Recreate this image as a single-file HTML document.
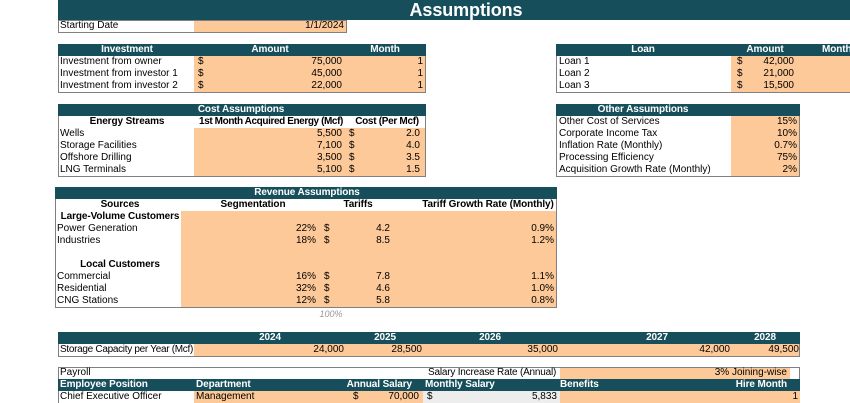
<!DOCTYPE html>
<html><head><meta charset="utf-8">
<style>
html,body{margin:0;padding:0;background:#fff;}
#root{position:relative;width:850px;height:403px;overflow:hidden;font-family:"Liberation Sans",Arial,sans-serif;font-size:10px;color:#000;}
.r{position:absolute;box-sizing:border-box;}
.t{position:absolute;white-space:nowrap;line-height:12px;height:12px;}
.hd{color:#fff;font-weight:bold;}
.b{font-weight:bold;}
.hd,.b{letter-spacing:-0.1px;}
</style></head>
<body>
<div id="root"></div>
<script>
const TEAL='#164f5b', OR='#fdc998', GR='#ededed';
const root=document.getElementById('root');
function rect(name,x,y,w,h,bg,border){
  const el=document.createElement('div');
  el.className='r';
  
  
  el.style.cssText=`left:${x}px;top:${y}px;width:${w}px;height:${h}px;`+(bg?`background:${bg};`:'')+(border?`border:1px solid ${border};`:'');
  root.appendChild(el);return el;
}
function txt(name,x,y,s,align,cls,inter){
  const el=document.createElement('div');
  el.className='t '+(cls||'');
  
  
  el.textContent=s;
  if(align==='r'){el.style.right=(850-x)+'px';}
  else if(align==='c'){el.style.left=(x-200)+'px';el.style.width='400px';el.style.textAlign='center';}
  else el.style.left=x+'px';
  el.style.top=y+'px';
  root.appendChild(el);return el;
}
rect('title-bar',58,0,792,20,TEAL);
const ti=txt('title',466,1,'Assumptions','c','hd');ti.style.fontSize='18px';ti.style.lineHeight='18px';ti.style.height='18px';
rect('starting-date-box',58,20,289,13,null,'#808080');
rect('starting-date-input',194,21,152,11,OR);
txt('starting-date-label',60,20,'Starting Date','l');
txt('starting-date-value',344,20,'1/1/2024','r','',true);

rect('investment-table',58,44,368,49,null,'#808080');
rect('investment-header',58,44,368,12,TEAL);
rect('investment-inputs',194,56,231,36,OR);
txt('investment-col',127,44,'Investment','c','hd');
txt('amount-col',270,44,'Amount','c','hd');
txt('month-col',385,44,'Month','c','hd');
const inv=[['Investment from owner','75,000'],['Investment from investor 1','45,000'],['Investment from investor 2','22,000']];
inv.forEach((d,i)=>{const y=56+i*12;
  txt('investment-label',60,y,d[0],'l');
  txt('dollar-sign',198,y,'$','l');
  txt('investment-amount',342,y,d[1],'r','',true);
  txt('investment-month',423,y,'1','r','',true);
});

rect('loan-table',556,44,300,49,null,'#808080');
rect('loan-header',556,44,294,12,TEAL);
rect('loan-inputs',731,56,119,36,OR);
txt('loan-col',643,44,'Loan','c','hd');
txt('loan-amount-col',765,44,'Amount','c','hd');
txt('loan-month-col',822,44,'Month','l','hd');
const loans=[['Loan 1','42,000'],['Loan 2','21,000'],['Loan 3','15,500']];
loans.forEach((d,i)=>{const y=56+i*12;
  txt('loan-label',559,y,d[0],'l');
  txt('dollar-sign',737,y,'$','l');
  txt('loan-amount',794,y,d[1],'r','',true);
});

rect('cost-table',58,104,368,73,null,'#808080');
rect('cost-header',58,104,368,12,TEAL);
rect('cost-inputs',194,128,231,48,OR);
txt('cost-title',241,104,'Cost Assumptions','c','hd');
txt('energy-streams-col',127,116,'Energy Streams','c','b');
txt('acquired-energy-col',271,116,'1st Month Acquired Energy (Mcf)','c','b').style.letterSpacing='-0.4px';
txt('cost-per-mcf-col',387,116,'Cost (Per Mcf)','c','b').style.letterSpacing='-0.3px';
const costs=[['Wells','5,500','2.0'],['Storage Facilities','7,100','4.0'],['Offshore Drilling','3,500','3.5'],['LNG Terminals','5,100','1.5']];
costs.forEach((d,i)=>{const y=128+i*12;
  txt('energy-stream-label',60,y,d[0],'l');
  txt('acquired-energy',342,y,d[1],'r','',true);
  txt('dollar-sign',349,y,'$','l');
  txt('cost-per-mcf',420,y,d[2],'r','',true);
});

rect('other-table',556,104,244,73,null,'#808080');
rect('other-header',556,104,244,12,TEAL);
rect('other-inputs',731,116,68,60,OR);
txt('other-title',643,104,'Other Assumptions','c','hd');
const oth=[['Other Cost of Services','15%'],['Corporate Income Tax','10%'],['Inflation Rate (Monthly)','0.7%'],['Processing Efficiency','75%'],['Acquisition Growth Rate (Monthly)','2%']];
oth.forEach((d,i)=>{const y=116+i*12;
  txt('other-label',559,y,d[0],'l');
  txt('other-value',797,y,d[1],'r','',true);
});

rect('revenue-table',55,187,502,121,null,'#808080');
rect('revenue-header',55,187,502,12,TEAL);
rect('revenue-inputs',181,211,375,96,OR);
txt('revenue-title',307,187,'Revenue Assumptions','c','hd');
txt('sources-col',120,199,'Sources','c','b');
txt('segmentation-col',253,199,'Segmentation','c','b');
txt('tariffs-col',358,199,'Tariffs','c','b');
txt('tariff-growth-col',488,199,'Tariff Growth Rate (Monthly)','c','b');
txt('large-volume-heading',120,211,'Large-Volume Customers','c','b');
txt('local-heading',120,259,'Local Customers','c','b');
const rev=[[223,'Power Generation','22%','4.2','0.9%'],[235,'Industries','18%','8.5','1.2%'],[271,'Commercial','16%','7.8','1.1%'],[283,'Residential','32%','4.6','1.0%'],[295,'CNG Stations','12%','5.8','0.8%']];
rev.forEach(d=>{const y=d[0];
  txt('revenue-source',57,y,d[1],'l');
  txt('segmentation',316,y,d[2],'r','',true);
  txt('dollar-sign',324,y,'$','l');
  txt('tariff',390,y,d[3],'r','',true);
  txt('tariff-growth',554,y,d[4],'r','',true);
});
const tot=txt('segmentation-total',331,308,'100%','c');tot.style.color='#999';tot.style.fontStyle='italic';tot.style.fontSize='9px';

rect('storage-table',58,332,742,25,null,'#808080');
rect('storage-header',58,332,742,12,TEAL);
rect('storage-inputs',194,344,605,12,OR);
const years=['2024','2025','2026','2027','2028'];
const yearX=[270,385,490,657,765];
const capX=[344,422,558,730,799];
const cap=['24,000','28,500','35,000','42,000','49,500'];
years.forEach((y,i)=>{txt('storage-year',yearX[i],332,y,'c','hd');txt('storage-capacity',capX[i],344,cap[i],'r','',true);});
txt('storage-label',60,344,'Storage Capacity per Year (Mcf)','l').style.letterSpacing='-0.3px';

rect('payroll-table',58,367,742,40,null,'#808080');
rect('payroll-rate-input',560,368,230,11,OR);
txt('payroll-label',60,367,'Payroll','l');
txt('salary-increase-label',428,367,'Salary Increase Rate (Annual)','l').style.letterSpacing='-0.2px';
txt('salary-increase-value',787,367,'3% Joining-wise','r','',true);
rect('payroll-header',58,379,742,12,TEAL);
txt('employee-position-col',60,379,'Employee Position','l','hd');
txt('department-col',196,379,'Department','l','hd');
txt('annual-salary-col',412,379,'Annual Salary','r','hd');
txt('monthly-salary-col',425,379,'Monthly Salary','l','hd');
txt('benefits-col',560,379,'Benefits','l','hd');
txt('hire-month-col',787,379,'Hire Month','r','hd');
rect('department-input',194,391,229,12,OR);
rect('monthly-salary-cell',423,391,137,12,GR);
rect('benefits-input',560,391,240,12,OR);
txt('employee-position',60,391,'Chief Executive Officer','l','',true);
txt('department',196,391,'Management','l','',true);
txt('dollar-sign',353,391,'$','l');
txt('annual-salary',419,391,'70,000','r','',true);
txt('dollar-sign',427,391,'$','l');
txt('monthly-salary',557,391,'5,833','r');
txt('hire-month',798,391,'1','r','',true);
</script>
</body></html>
